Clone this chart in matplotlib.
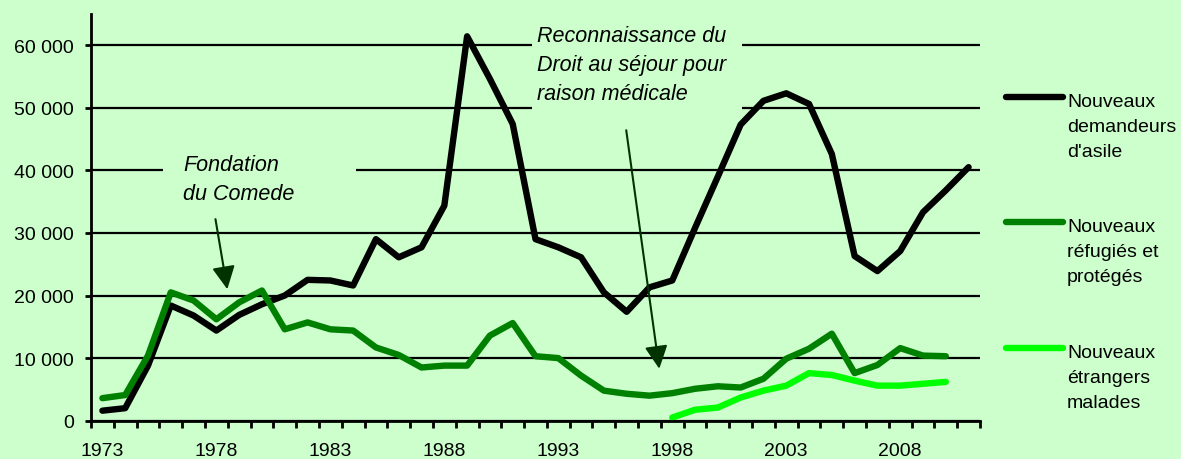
#!/usr/bin/env python3

# visualization
import matplotlib
matplotlib.use("Agg")
import matplotlib.pyplot as plt
from matplotlib.ticker import FuncFormatter, MultipleLocator
from matplotlib.patches import Rectangle
from matplotlib.lines import Line2D

plt.rcParams["font.family"] = ["Liberation Sans", "DejaVu Sans"]

# data
years = list(range(1973, 2012))
demandeurs = [1600, 2000, 8800, 18400, 16800, 14400, 16900, 18600, 20000, 22500,
              22400, 21600, 29000, 26100, 27700, 34350, 61400, 54600, 47400, 29000,
              27700, 26100, 20500, 17400, 21300, 22400, 30800, 39000, 47300, 51100,
              52300, 50600, 42600, 26300, 23900, 27100, 33300, 36800, 40500]
refugies = [3600, 4100, 10400, 20500, 19200, 16200, 18900, 20800, 14600, 15700,
            14600, 14400, 11700, 10500, 8500, 8800, 8800, 13600, 15600, 10300,
            10000, 7200, 4800, 4300, 4000, 4400, 5100, 5500, 5300, 6700,
            9900, 11500, 13900, 7600, 8900, 11600, 10400, 10300]
malades_years = list(range(1998, 2011))
malades = [500, 1750, 2100, 3700, 4800, 5600, 7600, 7300, 6400, 5600, 5600, 5900, 6200]

series_labels = ["Nouveaux\ndemandeurs\nd'asile",
                 "Nouveaux\nréfugiés et\nprotégés",
                 "Nouveaux\nétrangers\nmalades"]
series_colors = ["#000000", "#008000", "#00FF00"]

bg = "#CCFFCC"
W, H = 1181, 460

fig = plt.figure(figsize=(W / 100, H / 100), dpi=100, facecolor=bg)
ax = fig.add_axes([91 / W, 38.3 / H, 889 / W, 406.9 / H])
ax.set_facecolor(bg)

lw = 4.6
ax.plot(years, demandeurs, color=series_colors[0], lw=lw, solid_capstyle="round",
        solid_joinstyle="round", zorder=3)
ax.plot(years[:len(refugies)], refugies, color=series_colors[1], lw=lw,
        solid_capstyle="round", solid_joinstyle="round", zorder=3)
ax.plot(malades_years, malades, color=series_colors[2], lw=lw,
        solid_capstyle="round", solid_joinstyle="round", zorder=3)

# axes
ax.set_xlim(1972.5, 2011.5)
ax.set_ylim(0, 65000)
for s in ["top", "right"]:
    ax.spines[s].set_visible(False)
for s in ["left", "bottom"]:
    ax.spines[s].set_linewidth(2)
    ax.spines[s].set_zorder(4)

ax.set_xticks(years[::5])
ax.xaxis.set_minor_locator(MultipleLocator(1, offset=0.5))
ax.tick_params(axis="x", which="major", length=0, pad=15, labelsize=14)
ax.tick_params(axis="x", which="minor", length=5, width=2, direction="out")
ax.yaxis.set_major_locator(MultipleLocator(10000))
ax.yaxis.set_major_formatter(FuncFormatter(lambda v, p: f"{v:,.0f}".replace(",", " ")))
ax.tick_params(axis="y", length=4.5, width=2, pad=8, labelsize=14)
ax.yaxis.grid(True, color="black", lw=1.6, zorder=1)
ax.set_axisbelow(True)

# text boxes hiding the gridlines
ax.add_patch(Rectangle((0.081, 0.508), 0.217, 0.172, transform=ax.transAxes,
                       facecolor=bg, edgecolor="none", zorder=1.5))
ax.add_patch(Rectangle((0.496, 0.749), 0.236, 0.26, transform=ax.transAxes,
                       facecolor=bg, edgecolor="none", zorder=1.5, clip_on=False))

ax.text(0.1035, 0.6554, "Fondation\ndu Comede", transform=ax.transAxes,
        style="italic", fontsize=15.5, va="top", ha="left", linespacing=1.5, zorder=5)
ax.text(0.5017, 0.972, "Reconnaissance du\nDroit au séjour pour\nraison médicale",
        transform=ax.transAxes, style="italic", fontsize=15.5, va="top", ha="left",
        linespacing=1.5, zorder=5)

arrow = dict(arrowstyle="-|>,head_length=14,head_width=7", mutation_scale=1,
             color="#003300", lw=1.5, shrinkA=0, shrinkB=0)
ax.annotate("", xy=(1978.48, 21000), xytext=(1977.96, 32200), arrowprops=arrow, zorder=5)
ax.annotate("", xy=(1997.43, 8300), xytext=(1995.98, 46400), arrowprops=arrow, zorder=5)

# legend, drawn by hand so the handle sits on the first line
leg_y = [98, 223, 349]
for lab, col, y in zip(series_labels, series_colors, leg_y):
    fig.add_artist(Line2D([1006 / W, 1063 / W], [1 - y / H, 1 - y / H], color=col,
                          lw=lw, solid_capstyle="round"))
    fig.text(1067 / W, 1 - (y - 4) / H, lab, fontsize=14, va="top", ha="left",
             linespacing=1.6)

fig.savefig("out.png", dpi=100, facecolor=bg)
